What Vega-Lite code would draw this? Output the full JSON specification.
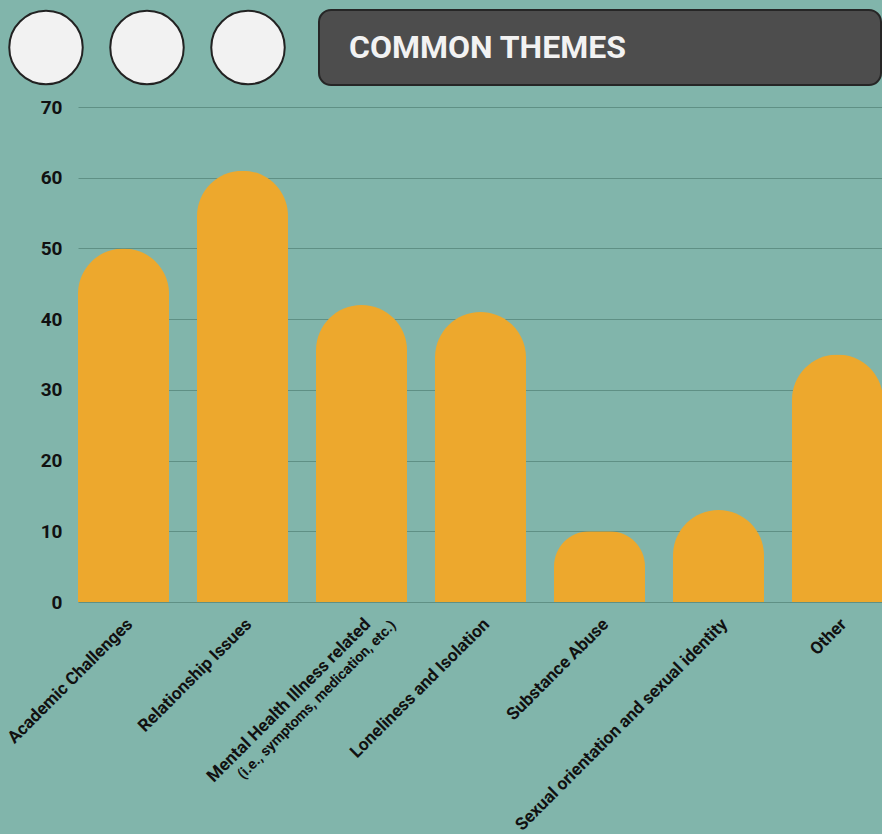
{
  "$schema": "https://vega.github.io/schema/vega-lite/v6.json",
  "background": "#81b5ab",
  "padding": {"left": 0, "top": 6, "right": 0, "bottom": 0},
  "config": {
    "view": {"stroke": null},
    "font": "Roboto"
  },
  "spacing": 9,
  "vconcat": [
    {
      "spacing": 24,
      "hconcat": [
        {
          "width": 216,
          "height": 75,
          "data": {"values": [{"c": "a"}, {"c": "b"}, {"c": "c"}]},
          "mark": {"type": "circle", "fill": "#f2f2f2", "stroke": "#222222", "strokeWidth": 2, "size": 5400, "opacity": 1},
          "encoding": {
            "x": {"field": "c", "type": "nominal", "axis": null, "scale": {"type": "point", "padding": 0, "range": [-32, 170]}}
          }
        },
        {
          "width": 562,
          "height": 75,
          "view": {"fill": "#4d4d4d", "stroke": "#262626", "strokeWidth": 2, "cornerRadius": 12},
          "data": {"values": [{"label": "COMMON THEMES"}]},
          "mark": {"type": "text", "align": "left", "baseline": "middle", "dx": 30, "fontSize": 32, "fontWeight": "bold", "color": "#f2f2f2"},
          "encoding": {
            "text": {"field": "label"},
            "x": {"field": "label", "type": "nominal", "axis": null, "scale": {"type": "point", "padding": 0, "align": 0}}
          }
        }
      ]
    },
    {
      "width": 805,
      "height": 495,
      "data": {
        "values": [
          {"theme": "Academic Challenges", "count": 50},
          {"theme": "Relationship Issues", "count": 61},
          {"theme": "Mental Health Illness related", "note": "(i.e., symptoms, medication, etc.)", "count": 42},
          {"theme": "Loneliness and Isolation", "count": 41},
          {"theme": "Substance Abuse", "count": 10},
          {"theme": "Sexual orientation and sexual identity", "count": 13},
          {"theme": "Other", "count": 35}
        ]
      },
      "encoding": {
        "x": {
          "field": "theme",
          "type": "nominal",
          "sort": null,
          "scale": {"paddingInner": 0.235, "paddingOuter": 0},
          "axis": {
            "title": null,
            "labelAngle": -45,
            "labelAlign": "right",
            "labelBaseline": "top",
            "labelPadding": 13,
            "labelFontSize": 17.3,
            "labelFontWeight": "bold",
            "labelColor": "#111111",
            "labelLimit": 500,
            "labelOverlap": false,
            "ticks": false,
            "domain": false
          }
        }
      },
      "layer": [
        {
          "mark": {"type": "bar", "color": "#eda82d", "cornerRadiusTopLeft": 46, "cornerRadiusTopRight": 46},
          "encoding": {
            "y": {
              "field": "count",
              "type": "quantitative",
              "scale": {"domain": [0, 70]},
              "axis": {
                "title": null,
                "values": [0, 10, 20, 30, 40, 50, 60, 70],
                "grid": true,
                "gridColor": "#5f9085",
                "gridWidth": 1,
                "domain": false,
                "ticks": false,
                "labelPadding": 16,
                "labelFontSize": 19,
                "labelFontWeight": "bold",
                "labelColor": "#111111",
                "minExtent": 78,
                "maxExtent": 78
              }
            }
          }
        },
        {
          "transform": [{"filter": "datum.note"}],
          "mark": {"type": "text", "angle": -45, "align": "right", "baseline": "top", "dx": 8, "dy": 31, "fontSize": 14.5, "fontWeight": "bold", "color": "#111111"},
          "encoding": {
            "text": {"field": "note"},
            "y": {"datum": 0}
          }
        }
      ]
    }
  ]
}
